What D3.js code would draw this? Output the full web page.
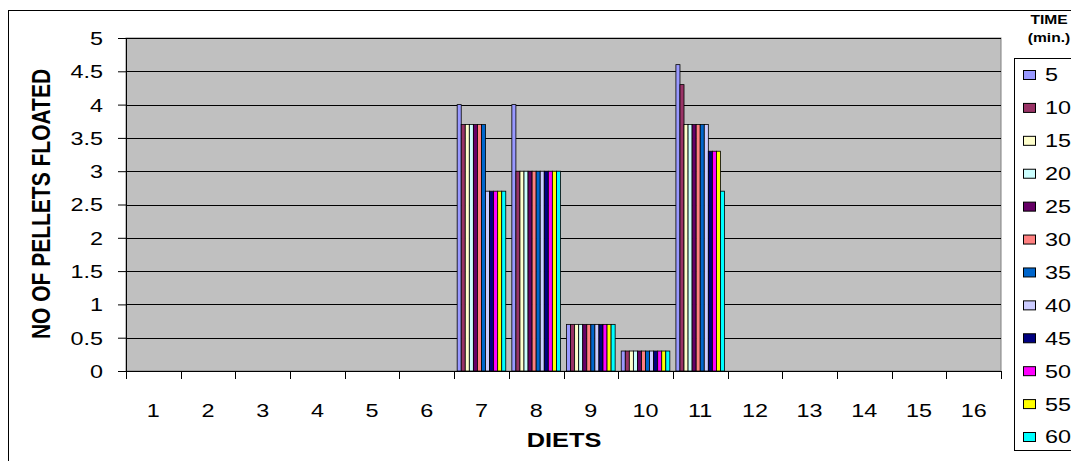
<!DOCTYPE html>
<html>
<head>
<meta charset="utf-8">
<script src="https://cdn.jsdelivr.net/npm/d3@7/dist/d3.min.js"></script>
<style>
  body { margin: 0; background: #fff; }
  svg { display: block; font-family: "Liberation Sans", Arial, sans-serif; }
</style>
</head>
<body>
<svg id="chart" width="1071" height="461"></svg>
<script>
// categories and series
const diets = ['1', '2', '3', '4', '5', '6', '7', '8', '9', '10', '11', '12', '13', '14', '15', '16'];
const times = ['5', '10', '15', '20', '25', '30', '35', '40', '45', '50', '55', '60'];

// values per diet (one per time), diets not listed have no bars
const diet7 = [4.0, 3.7, 3.7, 3.7, 3.7, 3.7, 3.7, 2.7, 2.7, 2.7, 2.7, 2.7];
const diet8 = [4.0, 3.0, 3.0, 3.0, 3.0, 3.0, 3.0, 3.0, 3.0, 3.0, 3.0, 3.0];
const diet9 = [0.7, 0.7, 0.7, 0.7, 0.7, 0.7, 0.7, 0.7, 0.7, 0.7, 0.7, 0.7];
const diet10 = [0.3, 0.3, 0.3, 0.3, 0.3, 0.3, 0.3, 0.3, 0.3, 0.3, 0.3, 0.3];
const diet11 = [4.6, 4.3, 3.7, 3.7, 3.7, 3.7, 3.7, 3.7, 3.3, 3.3, 3.3, 2.7];

const yTicks = [0, 0.5, 1, 1.5, 2, 2.5, 3, 3.5, 4, 4.5, 5];
const yTickLabels = ['0', '0.5', '1', '1.5', '2', '2.5', '3', '3.5', '4', '4.5', '5'];

const colors = ['#9999FF', '#993366', '#FFFFCC', '#CCFFFF', '#660066', '#FF8080',
                '#0066CC', '#CCCCFF', '#000080', '#FF00FF', '#FFFF00', '#00FFFF'];

const byDiet = { '7': diet7, '8': diet8, '9': diet9, '10': diet10, '11': diet11 };

// text in the original is stretched sideways
const sx = 1.3;

const plot = { left: 126, right: 1001, top: 38, bottom: 371 };

const svg = d3.select('#chart');

// outer chart border
svg.append('rect')
    .attr('x', 8.5).attr('y', 10.5)
    .attr('width', 1100).attr('height', 500)
    .attr('fill', '#fff')
    .attr('stroke', '#000')
    .attr('stroke-width', 1);

const x0 = d3.scaleBand()
    .domain(diets)
    .range([plot.left, plot.right])
    .padding(0);

const x1 = d3.scaleBand()
    .domain(times)
    .range([0, x0.bandwidth()])
    .paddingInner(0)
    .paddingOuter(0.75);

const y = d3.scaleLinear()
    .domain([0, 5])
    .range([plot.bottom, plot.top]);

// plot area
svg.append('rect')
    .attr('x', plot.left).attr('y', plot.top)
    .attr('width', plot.right - plot.left)
    .attr('height', plot.bottom - plot.top)
    .attr('fill', '#C0C0C0')
    .attr('stroke', '#808080')
    .attr('stroke-width', 1);

// gridlines
svg.append('g')
    .selectAll('line')
    .data(yTicks.filter(d => d > 0))
    .enter().append('line')
    .attr('x1', plot.left).attr('x2', plot.right)
    .attr('y1', d => Math.round(y(d)) + 0.5)
    .attr('y2', d => Math.round(y(d)) + 0.5)
    .attr('stroke', '#000')
    .attr('stroke-width', 1);

// bars
const groups = svg.append('g')
    .selectAll('g')
    .data(diets.filter(d => byDiet[d]))
    .enter().append('g')
    .attr('transform', d => `translate(${x0(d)},0)`);

groups.selectAll('rect')
    .data(d => byDiet[d].map((v, i) => ({ time: times[i], value: v, color: colors[i] })))
    .enter().append('rect')
    .attr('x', d => x1(d.time))
    .attr('y', d => y(d.value))
    .attr('width', x1.bandwidth())
    .attr('height', d => y(0) - y(d.value))
    .attr('fill', d => d.color)
    .attr('stroke', '#000')
    .attr('stroke-width', 0.8);

// y axis
const yAxis = svg.append('g')
    .attr('transform', `translate(${plot.left},0)`)
    .call(d3.axisLeft(y).tickValues(yTicks).tickFormat((d, i) => yTickLabels[i]).tickSize(8).tickSizeOuter(0));
yAxis.select('.domain').attr('stroke', '#000');
yAxis.selectAll('.tick line').attr('stroke', '#000');
yAxis.selectAll('.tick text')
    .attr('x', -23 / sx)
    .attr('dy', '0.36em')
    .attr('transform', `scale(${sx},1)`)
    .attr('fill', '#000')
    .style('font-family', '"Liberation Sans", Arial, sans-serif')
    .style('font-size', '18px');

// x axis
const xAxis = svg.append('g')
    .attr('transform', `translate(0,${plot.bottom})`)
    .call(d3.axisBottom(x0).tickSize(0).tickSizeOuter(0));
xAxis.select('.domain').attr('stroke', '#000');
xAxis.selectAll('.tick text')
    .attr('y', 0)
    .attr('dy', 0)
    .attr('transform', `translate(0,46) scale(${sx},1)`)
    .attr('fill', '#000')
    .style('font-family', '"Liberation Sans", Arial, sans-serif')
    .style('font-size', '18px');

// category boundary ticks
xAxis.append('g')
    .selectAll('line')
    .data(diets.map(d => x0(d)).concat([plot.right]))
    .enter().append('line')
    .attr('x1', d => Math.round(d) + 0.5).attr('x2', d => Math.round(d) + 0.5)
    .attr('y1', 0).attr('y2', 8)
    .attr('stroke', '#000');

// axis titles
svg.append('text')
    .attr('transform', `translate(564,447) scale(${sx},1)`)
    .attr('text-anchor', 'middle')
    .style('font-size', '19.5px')
    .style('font-weight', 'bold')
    .text('DIETS');

svg.append('text')
    .attr('transform', `translate(50,204) scale(1.2,1) rotate(-90)`)
    .attr('text-anchor', 'middle')
    .style('font-size', '21px')
    .style('font-weight', 'bold')
    .text('NO OF PELLETS FLOATED');

// legend
svg.append('text')
    .attr('transform', `translate(1049,24) scale(${sx},1)`)
    .attr('text-anchor', 'middle')
    .style('font-size', '12px')
    .style('font-weight', 'bold')
    .text('TIME');
svg.append('text')
    .attr('transform', `translate(1049,42) scale(${sx},1)`)
    .attr('text-anchor', 'middle')
    .style('font-size', '12px')
    .style('font-weight', 'bold')
    .text('(min.)');

svg.append('rect')
    .attr('x', 1014.5).attr('y', 58.5)
    .attr('width', 100).attr('height', 392)
    .attr('fill', '#fff')
    .attr('stroke', '#000')
    .attr('stroke-width', 1);

const ly = d3.scalePoint()
    .domain(times)
    .range([75, 437]);

const items = svg.append('g')
    .selectAll('g')
    .data(times)
    .enter().append('g')
    .attr('transform', d => `translate(0,${ly(d)})`);

items.append('rect')
    .attr('x', 1023.5).attr('y', -4.5)
    .attr('width', 12).attr('height', 9)
    .attr('fill', (d, i) => colors[i])
    .attr('stroke', '#000')
    .attr('stroke-width', 1);

items.append('text')
    .attr('transform', `translate(1045,0) scale(${sx},1)`)
    .attr('dy', '0.36em')
    .style('font-size', '18px')
    .text(d => d);
</script>
</body>
</html>
